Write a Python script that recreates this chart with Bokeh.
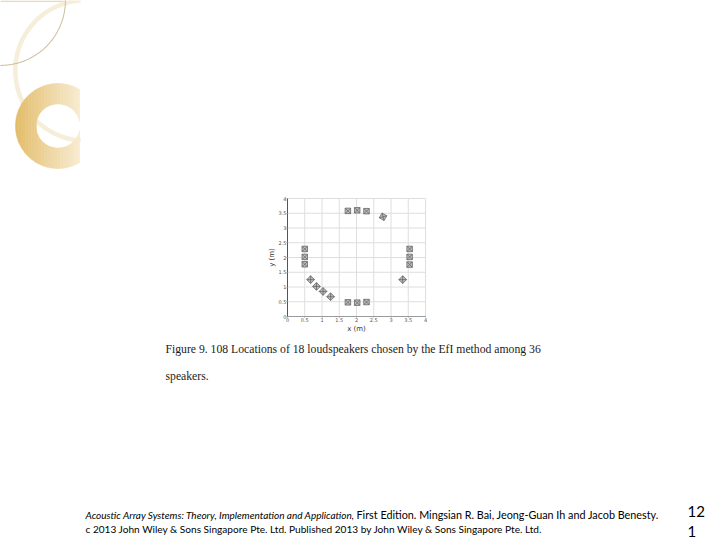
import numpy as np
from bokeh.plotting import figure
from bokeh.models import FixedTicker, Range1d, LinearAxis
from bokeh.core.properties import value
from bokeh.embed import file_html
from bokeh.resources import INLINE

# ---------------- data ----------------
spk_x = [1.75, 2.02, 2.29, 2.77, 0.50, 0.50, 0.50, 3.54, 3.54, 3.54,
         1.75, 2.02, 2.29, 0.67, 0.84, 1.03, 1.25, 3.34]
spk_y = [3.58, 3.60, 3.57, 3.38, 2.29, 2.02, 1.77, 2.29, 2.02, 1.76,
         0.48, 0.47, 0.49, 1.25, 1.02, 0.85, 0.67, 1.25]
spk_angle_deg = [0, 0, 0, -30, 0, 0, 0, 0, 0, 0,
                 0, 0, 0, 45, 45, 45, 45, -45]

x_ticks = [0, 0.5, 1, 1.5, 2, 2.5, 3, 3.5, 4]
y_ticks = [0, 0.5, 1, 1.5, 2, 2.5, 3, 3.5, 4]
tick_labels = ["0", "0.5", "1", "1.5", "2", "2.5", "3", "3.5", "4"]
x_label = "x (m)"
y_label = "y (m)"

caption_line1 = "Figure 9. 108 Locations of 18 loudspeakers chosen by the EfI method among 36"
caption_line2 = "speakers."
footer_italic = "Acoustic Array Systems: Theory, Implementation and Application,"
footer_regular = "First Edition. Mingsian R. Bai, Jeong-Guan Ih and Jacob Benesty."
footer_line2 = "c 2013 John Wiley & Sons Singapore Pte. Ltd. Published 2013 by John Wiley & Sons Singapore Pte. Ltd."
page_no_1 = "12"
page_no_2 = "1"

# ---------------- geometry (page pixels) ----------------
W, H = 720, 540
X_MIN, X_MAX = x_ticks[0], x_ticks[-1]
Y_MIN, Y_MAX = y_ticks[0], y_ticks[-1]
FRAME_L, FRAME_R = 287, 425      # where x = 0 .. 4 sit on the page
FRAME_B, FRAME_T = 316, 198      # where y = 0 .. 4 sit on the page
SX = (FRAME_R - FRAME_L) / (X_MAX - X_MIN)
SY = (FRAME_B - FRAME_T) / (Y_MAX - Y_MIN)


def dx(px):
    return X_MIN + (np.asarray(px, dtype=float) - FRAME_L) / SX


def dy(py):
    return Y_MIN + (FRAME_B - np.asarray(py, dtype=float)) / SY


p = figure(width=W, height=H,
           x_range=Range1d(float(dx(0)), float(dx(W))),
           y_range=Range1d(float(dy(H)), float(dy(0))),
           output_backend="svg", toolbar_location=None,
           x_axis_location=None, y_axis_location=None, min_border=0)
p.grid.visible = False
p.outline_line_color = None
p.background_fill_color = "white"
p.border_fill_color = "white"

# ---------------- slide decoration (top-left) ----------------
def band(cx, cy, r_in, r_out, th0, th1, n=90):
    th = np.deg2rad(np.linspace(th0, th1, n))
    ox = cx + r_out * np.cos(th); oy = cy + r_out * np.sin(th)
    ix = cx + r_in * np.cos(th[::-1]); iy = cy + r_in * np.sin(th[::-1])
    return np.concatenate([ox, ix]), np.concatenate([oy, iy])

p.quad(left=[float(dx(0))], right=[float(dx(66))], top=[float(dy(0))], bottom=[float(dy(1.6))],
       fill_color="#e9d9b4", line_alpha=0)
bx, by = band(85, 70, 68, 72.5, 94, 266)
p.patch(list(dx(bx)), list(dy(by)), fill_color="#f6eedb", line_alpha=0)

cx, cy, R, r = 57.5, 125.5, 42.5, 22.0
xl, xr = cx - R, 79.0
edges = np.unique(np.concatenate([np.linspace(xl, xr, 21), [cx - r]]))
c_left = np.array([226, 186, 102]); c_right = np.array([247, 235, 207])
pxs, pys, cols = [], [], []
for a, b in zip(edges[:-1], edges[1:]):
    t = ((a + b) / 2 - xl) / (xr - xl)
    col = c_left + (c_right - c_left) * t ** 0.9
    hexc = "#%02x%02x%02x" % tuple(int(round(v)) for v in col)
    xs = np.linspace(a, b, 10)
    out_h = np.sqrt(np.clip(R ** 2 - (xs - cx) ** 2, 0, None))
    in_h = np.sqrt(np.clip(r ** 2 - (xs - cx) ** 2, 0, None))
    if b <= cx - r + 1e-9:
        polys = [np.concatenate([cy - out_h, (cy + out_h)[::-1]])]
    else:
        polys = [np.concatenate([cy - out_h, (cy - in_h)[::-1]]),
                 np.concatenate([cy + in_h, (cy + out_h)[::-1]])]
    for ys in polys:
        pxs.append(list(dx(np.concatenate([xs, xs[::-1]]))))
        pys.append(list(dy(ys)))
        cols.append(hexc)
p.patches(pxs, pys, fill_color=cols, line_color=cols, line_width=0.6)

bx, by = band(0, 0, 64.4, 65.4, -2, 92)
p.patch(list(dx(bx)), list(dy(by)), fill_color="#cdbf9f", line_alpha=0)

# ---------------- chart ----------------
nx, ny = len(x_ticks), len(y_ticks)
p.segment(x0=x_ticks, y0=[Y_MIN] * nx, x1=x_ticks, y1=[Y_MAX] * nx,
          line_color="#dedede", line_width=1)
p.segment(x0=[X_MIN] * ny, y0=y_ticks, x1=[X_MAX] * ny, y1=y_ticks,
          line_color="#dedede", line_width=1)

xaxis = LinearAxis(fixed_location=Y_MIN, bounds=(X_MIN, X_MAX), axis_label=x_label)
yaxis = LinearAxis(fixed_location=X_MIN, bounds=(Y_MIN, Y_MAX), axis_label=y_label)
for ax, ticks in ((xaxis, x_ticks), (yaxis, y_ticks)):
    ax.ticker = FixedTicker(ticks=ticks)
    ax.major_label_overrides = {t: l for t, l in zip(ticks, tick_labels)}
    ax.major_label_text_font_size = "5px"
    ax.major_label_text_color = "#555555"
    ax.major_label_text_font = "DejaVu Sans"
    ax.major_tick_out = 1
    ax.major_tick_in = 0
    ax.minor_tick_out = 0
    ax.minor_tick_in = 0
    ax.major_tick_line_color = "#999999"
    ax.major_label_standoff = 0
    ax.axis_label_text_font_size = "7px"
    ax.axis_label_text_font_style = "normal"
    ax.axis_label_text_font = "DejaVu Sans"
    ax.axis_label_text_color = "#333333"
    ax.axis_label_standoff = 0
xaxis.axis_line_color = "#9a9a9a"
yaxis.axis_line_color = "#555555"
p.add_layout(xaxis, "below")
p.add_layout(yaxis, "left")

p.scatter(spk_x, spk_y, marker="square_x", size=5.5,
          angle=list(np.deg2rad(spk_angle_deg)),
          fill_color="#bdbdbd", line_color="#666666", line_width=0.8)

# ---------------- caption and footer ----------------
def txt(px, py, text, font, size, style="normal", color="#111111"):
    p.text(x=[float(dx(px))], y=[float(dy(py))], text=[text], text_font=value(font),
           text_font_size=size, text_font_style=style, text_color=color,
           text_align="left", text_baseline="middle")

txt(165, 349, caption_line1, "Liberation Serif", "11.7px", color="#1c1c1c")
txt(165, 376, caption_line2, "Liberation Serif", "11.7px", color="#1c1c1c")
txt(85, 514, footer_italic, "Lato", "10px", style="italic", color="#000000")
txt(356, 514, footer_regular, "Lato", "10.8px", color="#000000")
txt(85, 528, footer_line2, "Lato", "10.1px", color="#000000")
txt(687, 511, page_no_1, "Lato", "15px", color="#000000")
txt(687, 531, page_no_2, "Lato", "15px", color="#000000")

open("out.html", "w").write(file_html(p, INLINE))
